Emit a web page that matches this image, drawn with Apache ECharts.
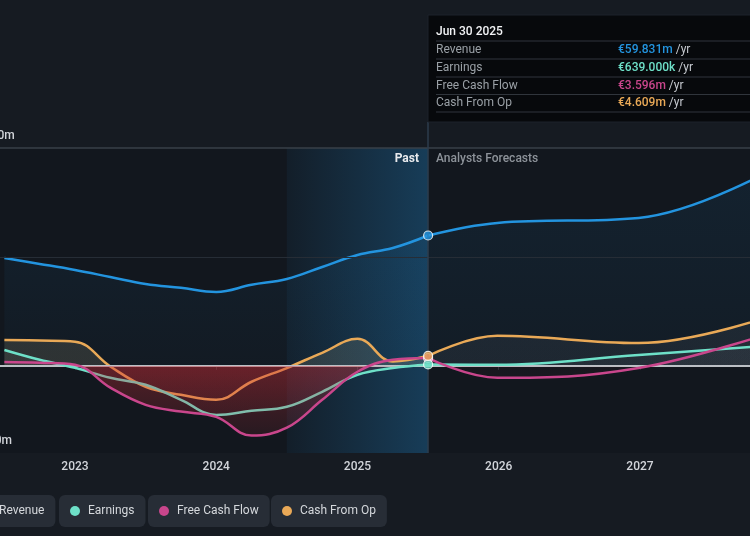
<!DOCTYPE html>
<html>
<head>
<meta charset="utf-8">
<script src="https://cdn.jsdelivr.net/npm/echarts@6/dist/echarts.min.js"></script>
<style>
  html, body { margin: 0; padding: 0; background: #161b22; }
  #chart { width: 750px; height: 536px; }
</style>
</head>
<body>
<div id="chart"></div>
<script>
// values in € millions, x is a decimal year
const pastDates = [2022.5, 2022.75, 2023, 2023.25, 2023.5, 2023.75, 2024, 2024.25, 2024.5, 2024.75, 2025, 2025.25, 2025.5];
const revenuePast = [49.5, 46.8, 44.0, 40.8, 37.6, 35.8, 33.9, 37.2, 39.9, 45.4, 50.9, 54.1, 59.831];
const earningsPast = [7.3, 2.8, -0.9, -5.5, -8.7, -15.6, -22.5, -20.6, -18.8, -11.9, -4.1, -1.0, 0.639];
const fcfPast = [1.8, 1.4, 0.5, -10.0, -17.9, -21.0, -23.4, -32.0, -28.4, -15.6, -2.7, 2.8, 3.596];
const cashPast = [11.9, 11.6, 11.1, -0.3, -9.6, -13.3, -15.6, -7.3, -1.0, 6.0, 12.4, 2.0, 4.609];

const forecastDates = [2025.5, 2025.99, 2026.99, 2027.99];
const revenueFc = [59.831, 65.6, 67.9, 92.0];
const earningsFc = [0.639, 0.5, 5.0, 9.6];
const fcfFc = [3.596, -5.5, -1.0, 16.5];
const cashFc = [4.609, 13.8, 10.5, 24.3];

const yearTicks = [2023, 2024, 2025, 2026, 2027];
const yLabelValues = [100, -40];
const seriesNames = ["Revenue", "Earnings", "Free Cash Flow", "Cash From Op"];
const colors = ["#2394df", "#6ee0c8", "#c9468c", "#e9a957"];
const tipDate = "Jun 30 2025";
const tipValues = ["€59.831m", "€639.000k", "€3.596m", "€4.609m"];

const chart = echarts.init(document.getElementById("chart"));
const FONT = "Roboto";
const gridTop = 148, gridBottom = 83;
const zeroStop = (100 / 140);

const pair = (xs, ys) => xs.map((x, i) => [x, ys[i]]);

// fill that turns red below the zero line
function splitFill(above, below, belowEnd) {
    return new echarts.graphic.LinearGradient(0, gridTop, 0, 536 - gridBottom, [
        { offset: 0, color: above },
        { offset: zeroStop, color: above },
        { offset: zeroStop + 0.001, color: below },
        { offset: 1, color: belowEnd }
    ], true);
}

function lineSeries(name, idx, data, area, z) {
    return {
        name: name,
        type: "line",
        data: data,
        smooth: 0.4,
        showSymbol: false,
        color: colors[idx],
        lineStyle: { width: 2.5, color: colors[idx] },
        areaStyle: area ? { color: area, origin: 0 } : undefined,
        z: z,
        silent: true
    };
}

const series = [
    Object.assign(lineSeries("Revenue", 0, pair(pastDates, revenuePast),
        new echarts.graphic.LinearGradient(0, 0, 0, 1, [
            { offset: 0, color: "rgba(35,148,223,0.10)" },
            { offset: 1, color: "rgba(35,148,223,0.04)" }
        ]), 3), {
        markArea: {
            silent: true,
            itemStyle: {
                color: new echarts.graphic.LinearGradient(0, 0, 1, 0, [
                    { offset: 0, color: "rgba(35,148,223,0.06)" },
                    { offset: 1, color: "rgba(35,148,223,0.30)" }
                ])
            },
            data: [[{ xAxis: 2024.5 }, { xAxis: 2025.5 }]]
        }
    }),
    Object.assign(lineSeries("Revenue", 0, pair(forecastDates, revenueFc),
        new echarts.graphic.LinearGradient(0, 0, 0, 1, [
            { offset: 0, color: "rgba(35,148,223,0.13)" },
            { offset: 1, color: "rgba(35,148,223,0.06)" }
        ]), 3), {
        markLine: {
            silent: true,
            symbol: "none",
            label: { show: false },
            data: [
                { yAxis: 100, lineStyle: { color: "#394049", width: 1.5, type: "solid" } },
                { yAxis: 50, lineStyle: { color: "#262d36", width: 1, type: "solid" } },
                { xAxis: 2025.5, lineStyle: { color: "#2c3c4c", width: 1.5, type: "solid" } }
            ]
        }
    }),
    lineSeries("Cash From Op", 3, pair(pastDates, cashPast),
        splitFill("rgba(215,200,150,0.20)", "rgba(205,45,55,0.12)", "rgba(205,45,55,0.03)"), 4),
    lineSeries("Earnings", 1, pair(pastDates, earningsPast),
        splitFill("rgba(180,190,190,0.08)", "rgba(205,45,55,0.14)", "rgba(205,45,55,0.03)"), 5),
    lineSeries("Free Cash Flow", 2, pair(pastDates, fcfPast),
        splitFill("rgba(180,190,190,0.05)", "rgba(205,45,55,0.50)", "rgba(205,45,55,0.08)"), 6),
    lineSeries("Cash From Op", 3, pair(forecastDates, cashFc),
        splitFill("rgba(200,205,215,0.09)", "rgba(200,45,55,0.05)", "rgba(200,45,55,0.03)"), 4),
    lineSeries("Earnings", 1, pair(forecastDates, earningsFc),
        splitFill("rgba(200,205,215,0.06)", "rgba(200,45,55,0.04)", "rgba(200,45,55,0.02)"), 5),
    lineSeries("Free Cash Flow", 2, pair(forecastDates, fcfFc),
        splitFill("rgba(200,205,215,0.04)", "rgba(200,45,55,0.05)", "rgba(200,45,55,0.02)"), 6),
    {
        name: "zero",
        type: "line",
        data: [],
        z: 7,
        markLine: {
            silent: true,
            symbol: "none",
            label: { show: false },
            data: [{ yAxis: 0, lineStyle: { color: "#bcc0c5", width: 2, type: "solid" } }]
        }
    }
];

// latest reported point on each line
[fcfPast, earningsPast, cashPast, revenuePast].forEach((arr, k) => {
    const idx = [2, 1, 3, 0][k];
    series.push({
        name: seriesNames[idx],
        type: "scatter",
        data: [[pastDates[pastDates.length - 1], arr[arr.length - 1]]],
        symbolSize: 9,
        itemStyle: { color: colors[idx], borderColor: "#ffffff", borderWidth: 1.2 },
        z: 10 + k,
        silent: true
    });
});

const legendLefts = [-30, 59, 148, 271];

const option = {
    backgroundColor: "#161b22",
    animation: false,
    textStyle: { fontFamily: FONT },
    grid: {
        show: true,
        backgroundColor: "#12171e",
        borderWidth: 0,
        outerBoundsMode: "none",
        containLabel: false,
        left: 0,
        right: 0,
        top: gridTop,
        bottom: gridBottom
    },
    legend: seriesNames.map((n, i) => ({
        data: [n],
        left: legendLefts[i],
        top: 495,
        icon: "circle",
        itemWidth: 10,
        itemHeight: 10,
        selectedMode: false,
        backgroundColor: "#272d36",
        borderRadius: 6,
        padding: [10, 11, 10, 11],
        textStyle: { color: "#d5d8dc", fontSize: 12, fontFamily: FONT, padding: [0, 0, 0, 3] }
    })),
    xAxis: {
        type: "value",
        min: 2022.469,
        max: 2027.779,
        splitLine: { show: false },
        axisLine: { lineStyle: { color: "#30363f", width: 1.5 } },
        axisTick: { customValues: yearTicks, length: 4, lineStyle: { color: "#30363f" } },
        axisLabel: {
            customValues: yearTicks,
            color: "#d2d5da",
            fontSize: 12,
            fontWeight: 500,
            margin: 8,
            formatter: v => String(Math.round(v))
        }
    },
    yAxis: {
        type: "value",
        min: -40,
        max: 100,
        interval: 10,
        splitLine: { show: false },
        axisLine: { show: false },
        axisTick: { show: false },
        axisLabel: {
            customValues: yLabelValues,
            inside: true,
            margin: -23,
            color: "#d2d5da",
            fontSize: 12,
            fontWeight: 500,
            verticalAlign: "bottom",
            padding: [0, 0, 6, 0],
            formatter: v => (v < 0 ? "-€" + (-v) : "€" + v) + "m"
        }
    },
    series: series
};

chart.setOption(option);

// divider, section labels and the fixed tooltip box, anchored on the Jun 2025 position
const x0 = Math.round(chart.convertToPixel({ gridIndex: 0 }, [2025.5, 0])[0]);
const rowYs = [50, 68, 85.5, 103];
const sepYs = [41, 59, 77, 94.5, 112];
const graphics = [
    { type: "line", shape: { x1: x0, y1: 122, x2: x0, y2: gridTop }, style: { stroke: "#2c3c4c", lineWidth: 1.5 }, z: 20 },
    { type: "rect", shape: { x: x0, y: 15, width: 400, height: 107 }, style: { fill: "#07090c", stroke: "#1d232b", lineWidth: 1 }, z: 20 },
    { type: "text", x: x0 + 8, y: 32, style: { text: tipDate, fill: "#f2f3f5", fontSize: 12, fontWeight: 500, fontFamily: FONT, verticalAlign: "middle" }, z: 21 },
    { type: "text", x: x0 - 9, y: 159, style: { text: "Past", fill: "#e8eaed", fontSize: 12, fontWeight: "bold", fontFamily: FONT, align: "right", verticalAlign: "middle" }, z: 21 },
    { type: "text", x: x0 + 8, y: 159, style: { text: "Analysts Forecasts", fill: "#8d939a", fontSize: 12, fontWeight: 500, fontFamily: FONT, verticalAlign: "middle" }, z: 21 }
];
sepYs.forEach(y => {
    graphics.push({ type: "line", shape: { x1: x0 + 8, y1: y, x2: 750, y2: y }, style: { stroke: "#30353c", lineWidth: 1 }, z: 21 });
});
seriesNames.forEach((n, i) => {
    graphics.push({ type: "text", x: x0 + 8, y: rowYs[i], style: { text: n, fill: "#9aa0a6", fontSize: 12, fontFamily: FONT, verticalAlign: "middle" }, z: 21 });
    graphics.push({
        type: "text", x: x0 + 190, y: rowYs[i],
        style: {
            text: "{v|" + tipValues[i] + "} {u|/yr}",
            verticalAlign: "middle",
            fontFamily: FONT,
            rich: {
                v: { fill: colors[i], fontSize: 12, fontWeight: 500, fontFamily: FONT },
                u: { fill: "#c6cad0", fontSize: 12, fontFamily: FONT }
            }
        },
        z: 21
    });
});
chart.setOption({ graphic: graphics });
</script>
</body>
</html>
